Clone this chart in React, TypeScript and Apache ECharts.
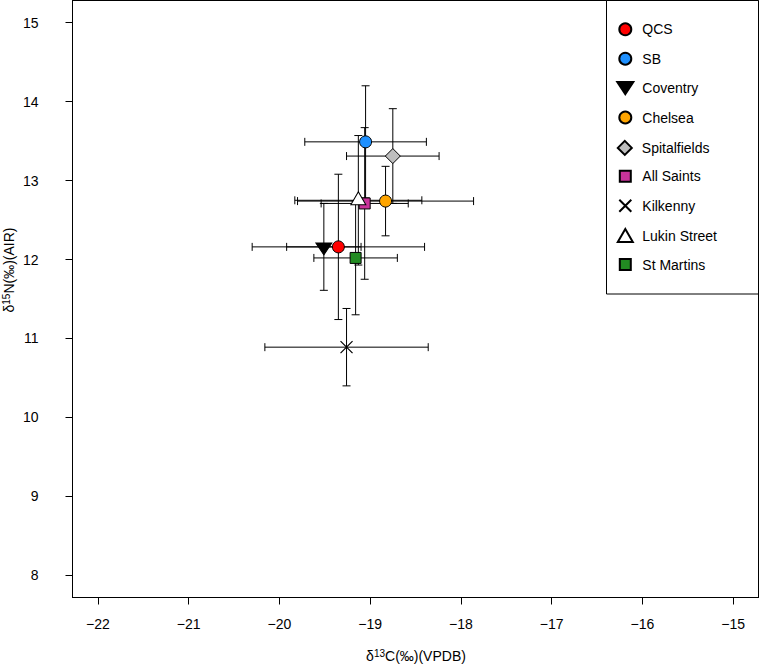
import React, { useEffect, useRef } from 'react';
import * as echarts from 'echarts';

// ---- data ----
const sites = ['QCS', 'SB', 'Coventry', 'Chelsea', 'Spitalfields', 'All Saints', 'Kilkenny', 'Lukin Street', 'St Martins'];
const carbonMean = [-19.35, -19.05, -19.51, -18.83, -18.75, -19.06, -19.26, -19.13, -19.16];
const carbonSD = [0.95, 0.67, 0.41, 0.97, 0.51, 0.48, 0.9, 0.7, 0.46];
const nitrogenMean = [12.16, 13.49, 12.16, 12.74, 13.31, 12.71, 10.89, 12.75, 12.02];
const nitrogenSD = [0.92, 0.71, 0.55, 0.44, 0.6, 0.96, 0.49, 0.82, 0.72];
const xTicks = [-22, -21, -20, -19, -18, -17, -16, -15];
const yTicks = [8, 9, 10, 11, 12, 13, 14, 15];

// ---- styles ----
const FONT = '"Liberation Sans", Arial, sans-serif';
const fills = ['#FF0000', '#1E90FF', '#000000', '#FFA500', '#BEBEBE', '#C9339A', 'rgba(0,0,0,0)', '#FFFFFF', '#228B22'];
const markers: { symbol: string; size: [number, number]; offset: [number, number] }[] = [
  { symbol: 'circle', size: [12, 12], offset: [0, 0] },
  { symbol: 'circle', size: [12, 12], offset: [0, 0] },
  { symbol: 'path://M0,0L16,0L8,12Z', size: [16, 12], offset: [0, 2] },
  { symbol: 'circle', size: [12, 12], offset: [0, 0] },
  { symbol: 'path://M7,0L14,7L7,14L0,7Z', size: [15, 15], offset: [0, 0] },
  { symbol: 'path://M0,0H10V10H0Z', size: [11, 11], offset: [0, 0] },
  { symbol: 'path://M0,0L10,10M10,0L0,10', size: [12, 12], offset: [0, 0] },
  { symbol: 'path://M7.5,0L15,13L0,13Z', size: [15, 13], offset: [0, -2] },
  { symbol: 'path://M0,0H10V10H0Z', size: [11, 11], offset: [0, 0] },
];

const minus = (v: number) => (v < 0 ? '\u2212' + Math.abs(v) : String(v));

export default function App() {
  const ref = useRef<HTMLDivElement>(null);
  useEffect(() => {
    if (!ref.current) return;
    const chart = echarts.init(ref.current, undefined, { renderer: 'svg' });

    const errData = sites.map((_, i) => [carbonMean[i], nitrogenMean[i], carbonSD[i], nitrogenSD[i]]);

    const scatterSeries = sites.map((name, i) => ({
      type: 'scatter',
      name,
      data: [[carbonMean[i], nitrogenMean[i]]],
      symbol: markers[i].symbol,
      symbolSize: markers[i].size,
      symbolOffset: markers[i].offset,
      z: 3 + i * 0.01,
      itemStyle: {
        color: fills[i],
        borderColor: '#000',
        borderWidth: i === 6 ? 1.2 : 1,
        opacity: 1,
      },
      emphasis: { disabled: true },
    }));

    const rowTop = 29.3;
    const rowGap = 29.4;
    const legends = sites.map((name, i) => {
      const w = markers[i].size[0];
      return {
        data: [name],
        orient: 'vertical',
        left: 624.3 - w / 2,
        top: rowTop + rowGap * i - 7,
        padding: 0,
        itemWidth: w,
        itemHeight: 14,
        selectedMode: false,
        textStyle: {
          color: '#000',
          fontSize: 14,
          fontFamily: FONT,
          lineHeight: 14,
          padding: [0, 0, 0, 12 - w / 2],
        },
      };
    });

    const option: any = {
      animation: false,
      grid: {
        left: 72.5,
        right: 1.5,
        top: 0.5,
        bottom: 66.5,
        show: true,
        borderColor: '#000',
        borderWidth: 1,
        containLabel: false,
      },
      xAxis: {
        type: 'value',
        min: -22.28,
        max: -14.72,
        axisLine: { show: true, onZero: false, lineStyle: { color: '#000', width: 1 } },
        axisTick: { show: true, length: 7, customValues: xTicks, lineStyle: { color: '#000' } },
        axisLabel: {
          customValues: xTicks,
          formatter: (v: number) => minus(v),
          color: '#000',
          fontSize: 14,
          fontFamily: FONT,
          margin: 19,
        },
        splitLine: { show: false },
      },
      yAxis: {
        type: 'value',
        min: 7.72,
        max: 15.28,
        axisLine: { show: true, onZero: false, lineStyle: { color: '#000', width: 1 } },
        axisTick: { show: true, length: 7, customValues: yTicks, lineStyle: { color: '#000' } },
        axisLabel: {
          customValues: yTicks,
          formatter: (v: number) => String(v),
          color: '#000',
          fontSize: 14,
          fontFamily: FONT,
          margin: 18,
          padding: [0, 16, 0, 0],
        },
        splitLine: { show: false },
      },
      legend: legends,
      graphic: [
        {
          type: 'rect',
          z: 3,
          shape: { x: 606.5, y: 0.5, width: 152, height: 293.5 },
          style: { fill: '#fff', stroke: '#000', lineWidth: 1 },
        },
        {
          type: 'text',
          x: 416,
          y: 656,
          style: {
            text: 'δ{s|13}C(‰)(VPDB)',
            fill: '#000',
            fontSize: 14,
            fontFamily: FONT,
            lineHeight: 16,
            align: 'center',
            verticalAlign: 'middle',
            rich: { s: { fontSize: 10, fontFamily: FONT, fill: '#000', verticalAlign: 'top', lineHeight: 12 } },
          },
        },
        {
          type: 'text',
          x: 9,
          y: 270,
          rotation: Math.PI / 2,
          style: {
            text: 'δ{s|15}N(‰)(AIR)',
            fill: '#000',
            fontSize: 14,
            fontFamily: FONT,
            lineHeight: 16,
            align: 'center',
            verticalAlign: 'middle',
            rich: { s: { fontSize: 10, fontFamily: FONT, fill: '#000', verticalAlign: 'top', lineHeight: 12 } },
          },
        },
      ],
      series: [
        {
          type: 'custom',
          name: 'error bars',
          z: 2,
          silent: true,
          data: errData,
          encode: { x: 0, y: 1 },
          renderItem: (params: any, api: any) => {
            const x = api.value(0);
            const y = api.value(1);
            const xe = api.value(2);
            const ye = api.value(3);
            const l = api.coord([x - xe, y]);
            const r = api.coord([x + xe, y]);
            const t = api.coord([x, y + ye]);
            const b = api.coord([x, y - ye]);
            const h = 4;
            const style = { stroke: '#000', lineWidth: 1 };
            const ln = (x1: number, y1: number, x2: number, y2: number) => ({
              type: 'line',
              shape: { x1, y1, x2, y2 },
              style,
            });
            return {
              type: 'group',
              children: [
                ln(l[0], l[1], r[0], r[1]),
                ln(t[0], t[1], b[0], b[1]),
                ln(l[0], l[1] - h, l[0], l[1] + h),
                ln(r[0], r[1] - h, r[0], r[1] + h),
                ln(t[0] - h, t[1], t[0] + h, t[1]),
                ln(b[0] - h, b[1], b[0] + h, b[1]),
              ],
            };
          },
        },
        ...scatterSeries,
      ],
    };

    chart.setOption(option);
    return () => chart.dispose();
  }, []);

  return (
    <div
      ref={ref}
      style={{ position: 'fixed', left: 0, top: 0, width: 760, height: 664, background: '#fff' }}
    />
  );
}
